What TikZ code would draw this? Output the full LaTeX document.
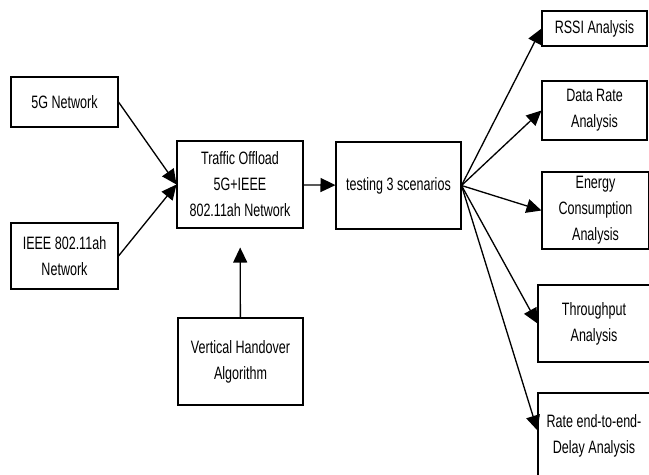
\documentclass[tikz,border=0pt]{standalone}
\usepackage{fontspec}
\setmainfont{Liberation Sans}[FakeStretch=0.7]
\usetikzlibrary{arrows.meta}

\begin{document}
\begin{tikzpicture}[x=0.02cm,y=-0.02cm,
    box/.style={draw,line width=0.6pt,align=center,inner sep=0pt,
      font=\fontsize{10.2pt}{14.8pt}\selectfont},
    arr/.style={-{Triangle[length=0.3cm,width=0.28cm]},line width=0.75pt}]
    \clip (0,0) rectangle (649,474);
    \node[box,minimum width=2.14cm,minimum height=1.0cm] (g5) at (64.5,102) {5G Network};
    \node[box,minimum width=2.14cm,minimum height=1.32cm] (ieee) at (64.5,256) {IEEE 802.11ah\\Network};
    \node[box,minimum width=2.52cm,minimum height=1.74cm] (offload) at (240,184.5) {Traffic Offload\\5G+IEEE\\802.11ah Network};
    \node[box,minimum width=2.5cm,minimum height=1.74cm] (handover) at (240.5,361.5) {Vertical Handover\\Algorithm};
    \node[box,minimum width=2.5cm,minimum height=1.74cm] (testing) at (398.5,185.5) {testing 3 scenarios};
    \node[box,minimum width=2.1cm,minimum height=0.7cm] (rssi) at (594.5,28.5) {RSSI Analysis};
    \node[box,minimum width=2.1cm,minimum height=1.18cm] (datarate) at (594.5,110.5) {Data Rate\\Analysis};
    \node[box,minimum width=2.14cm,minimum height=1.54cm] (energy) at (595.5,210.5) {Energy\\Consumption\\Analysis};
    \node[box,minimum width=2.24cm,minimum height=1.54cm] (thru) at (594,323.5) {Throughput\\Analysis};
    \node[box,minimum width=2.24cm,minimum height=1.7cm] (delay) at (594,435.5) {Rate end-to-end-\\Delay Analysis};
    \draw[arr] (g5.east) -- (offload.west);
    \draw[arr] (ieee.east) -- (offload.west);
    \draw[arr,shorten >=0.38cm] (handover) -- (offload);
    \draw[arr] (offload) -- (testing);
    \draw[arr] (testing.east) -- (rssi.west);
    \draw[arr] (testing.east) -- (datarate.west);
    \draw[arr] (testing.east) -- (energy.west);
    \draw[arr] (testing.east) -- (thru.west);
    \draw[arr] (testing.east) -- ([yshift=0.1cm]delay.west);
\end{tikzpicture}
\end{document}
